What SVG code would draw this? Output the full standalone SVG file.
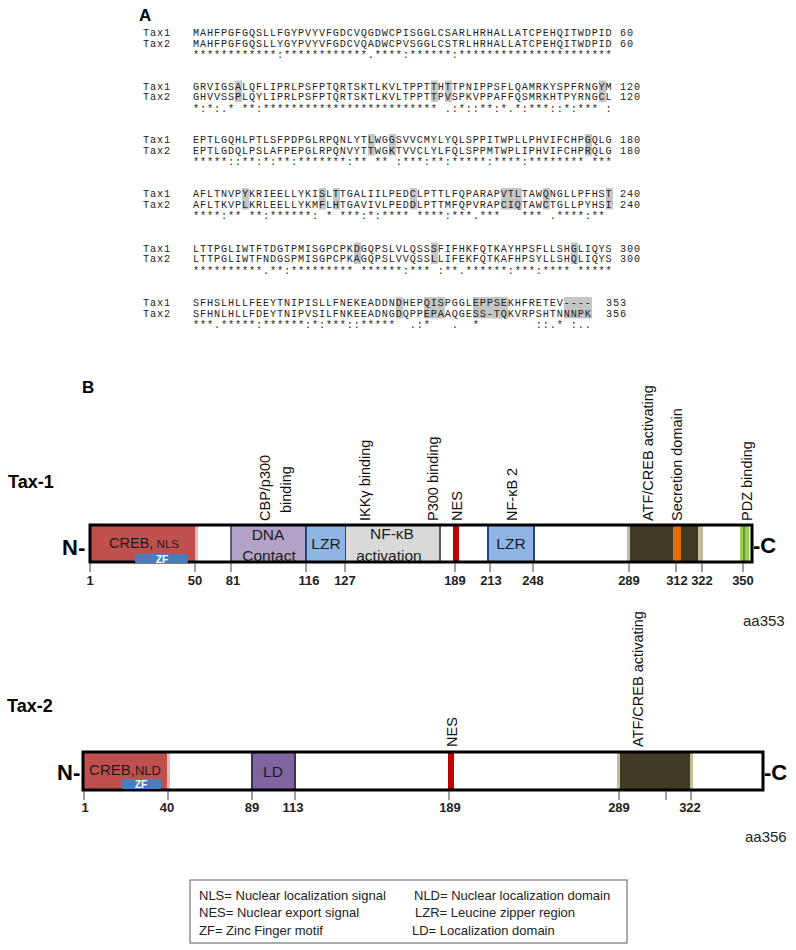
<svg xmlns="http://www.w3.org/2000/svg" width="796" height="950" viewBox="0 0 796 950">
<style>
.seq{font-family:'Liberation Mono',monospace;font-size:10.2px;letter-spacing:0.88px;fill:#222;white-space:pre}
.hl{fill:#c6c6c6}
.pl{font-family:'Liberation Sans',Arial,sans-serif;font-weight:bold;fill:#000}
.rl{font-family:'Liberation Sans',Arial,sans-serif;font-size:14.5px;fill:#111}
.num{font-family:'Liberation Sans',Arial,sans-serif;font-size:13px;font-weight:bold;fill:#222;text-anchor:middle}
.in{font-family:'Liberation Sans',Arial,sans-serif;font-size:15.5px;fill:#1c1c1c;text-anchor:middle}
.zf{font-family:'Liberation Sans',Arial,sans-serif;font-size:10px;font-weight:bold;fill:#fff;text-anchor:middle}
.tick{stroke:#404040;stroke-width:1}
.lg{font-family:'Liberation Sans',Arial,sans-serif;font-size:13px;fill:#222}
.aa{font-family:'Liberation Sans',Arial,sans-serif;font-size:15px;fill:#222}
.bar{fill:none;stroke:#000;stroke-width:3}
</style>
<rect width="796" height="950" fill="#fff"/>
<text class="pl" x="139" y="21" font-size="17">A</text>
<g id="alignment">
<g id="block1">
<text class="seq" x="143" y="36">Tax1</text><text class="seq" x="193" y="36">MAHFPGFGQSLLFGYPVYVFGDCVQGDWCPISGGLCSARLHRHALLATCPEHQITWDPID</text><text class="seq" x="620" y="36">60</text>
<text class="seq" x="143" y="46.5">Tax2</text><text class="seq" x="193" y="46.5">MAHFPGFGQSLLYGYPVYVFGDCVQADWCPVSGGLCSTRLHRHALLATCPEHQITWDPID</text><text class="seq" x="620" y="46.5">60</text>
<text class="seq" x="193" y="58" xml:space="preserve">************:************.****:******:**********************</text>
</g>
<g id="block2" transform="translate(0,53.5)">
<rect class="hl" x="235" y="27" width="7" height="21.5"/><rect class="hl" x="431" y="27" width="7" height="21.5"/><rect class="hl" x="445" y="27" width="7" height="21.5"/><rect class="hl" x="599" y="27" width="7" height="21.5"/>
<text class="seq" x="143" y="36">Tax1</text><text class="seq" x="193" y="36">GRVIGSALQFLIPRLPSFPTQRTSKTLKVLTPPTTHTTPNIPPSFLQAMRKYSPFRNGYM</text><text class="seq" x="620" y="36">120</text>
<text class="seq" x="143" y="46.5">Tax2</text><text class="seq" x="193" y="46.5">GHVVSSPLQYLIPRLPSFPTQRTSKTLKVLTPPTTPVSPKVPPAFFQSMRKHTPYRNGCL</text><text class="seq" x="620" y="46.5">120</text>
<text class="seq" x="193" y="58" xml:space="preserve">*:*:.* **:************************* .:*::**:*.*:***::*:*** :</text>
</g>
<g id="block3" transform="translate(0,107)">
<rect class="hl" x="368" y="27" width="7" height="21.5"/><rect class="hl" x="389" y="27" width="7" height="21.5"/><rect class="hl" x="585" y="27" width="7" height="21.5"/>
<text class="seq" x="143" y="36">Tax1</text><text class="seq" x="193" y="36">EPTLGQHLPTLSFPDPGLRPQNLYTLWGGSVVCMYLYQLSPPITWPLLPHVIFCHPGQLG</text><text class="seq" x="620" y="36">180</text>
<text class="seq" x="143" y="46.5">Tax2</text><text class="seq" x="193" y="46.5">EPTLGDQLPSLAFPEPGLRPQNVYTTWGKTVVCLYLFQLSPPMTWPLIPHVIFCHPRQLG</text><text class="seq" x="620" y="46.5">180</text>
<text class="seq" x="193" y="58" xml:space="preserve">*****::**:*:**:*******:** ** :***:**:*****:****:******** ***</text>
</g>
<g id="block4" transform="translate(0,161)">
<rect class="hl" x="242" y="27" width="7" height="21.5"/><rect class="hl" x="319" y="27" width="7" height="21.5"/><rect class="hl" x="333" y="27" width="7" height="21.5"/><rect class="hl" x="410" y="27" width="7" height="21.5"/><rect class="hl" x="501" y="27" width="21" height="21.5"/><rect class="hl" x="543" y="27" width="7" height="21.5"/><rect class="hl" x="606" y="27" width="7" height="21.5"/>
<text class="seq" x="143" y="36">Tax1</text><text class="seq" x="193" y="36">AFLTNVPYKRIEELLYKISLTTGALIILPEDCLPTTLFQPARAPVTLTAWQNGLLPFHST</text><text class="seq" x="620" y="36">240</text>
<text class="seq" x="143" y="46.5">Tax2</text><text class="seq" x="193" y="46.5">AFLTKVPLKRLEELLYKMFLHTGAVIVLPEDDLPTTMFQPVRAPCIQTAWCTGLLPYHSI</text><text class="seq" x="620" y="46.5">240</text>
<text class="seq" x="193" y="58" xml:space="preserve">****:** **:******: * ***:*:**** ****:***.***   *** .****:** </text>
</g>
<g id="block5" transform="translate(0,215.5)">
<rect class="hl" x="354" y="27" width="7" height="21.5"/><rect class="hl" x="431" y="27" width="7" height="21.5"/><rect class="hl" x="571" y="27" width="7" height="21.5"/>
<text class="seq" x="143" y="36">Tax1</text><text class="seq" x="193" y="36">LTTPGLIWTFTDGTPMISGPCPKDGQPSLVLQSSSFIFHKFQTKAYHPSFLLSHGLIQYS</text><text class="seq" x="620" y="36">300</text>
<text class="seq" x="143" y="46.5">Tax2</text><text class="seq" x="193" y="46.5">LTTPGLIWTFNDGSPMISGPCPKAGQPSLVVQSSLLIFEKFQTKAFHPSYLLSHQLIQYS</text><text class="seq" x="620" y="46.5">300</text>
<text class="seq" x="193" y="58" xml:space="preserve">**********.**:********* ******:*** :**.******:***:**** *****</text>
</g>
<g id="block6" transform="translate(0,270)">
<rect class="hl" x="396" y="27" width="7" height="21.5"/><rect class="hl" x="424" y="27" width="21" height="21.5"/><rect class="hl" x="473" y="27" width="35" height="21.5"/><rect class="hl" x="564" y="27" width="28" height="21.5"/>
<text class="seq" x="143" y="36">Tax1</text><text class="seq" x="193" y="36">SFHSLHLLFEEYTNIPISLLFNEKEADDNDHEPQISPGGLEPPSEKHFRETEV----</text><text class="seq" x="606" y="36">353</text>
<text class="seq" x="143" y="46.5">Tax2</text><text class="seq" x="193" y="46.5">SFHNLHLLFDEYTNIPVSILFNKEEADNGDQPPEPAAQGESS-TQKVRPSHTNNNPK</text><text class="seq" x="606" y="46.5">356</text>
<text class="seq" x="193" y="58" xml:space="preserve">***.*****:******:*:***::*****  .:*   .  *        ::.* :..</text>
</g>
</g>
<text class="pl" x="82" y="393" font-size="17">B</text>
<g id="tax1">
<text class="pl" x="8" y="488" font-size="18">Tax-1</text>
<text class="pl" x="62" y="555" font-size="22">N-</text>
<text class="pl" x="753" y="553" font-size="22">-C</text>
<rect x="90" y="525" width="105" height="37" fill="#c0504d"/>
<rect x="195" y="525" width="3" height="37" fill="#e6b9b8"/>
<rect x="231" y="525" width="75" height="37" fill="#b3a2c7"/>
<line x1="231" y1="525" x2="231" y2="562" stroke="#403152" stroke-width="1.5"/>
<rect x="306" y="525" width="40" height="37" fill="#8eb4e3" stroke="#1f497d" stroke-width="2"/>
<rect x="346" y="525" width="94" height="37" fill="#d9d9d9"/>
<line x1="440" y1="525" x2="440" y2="562" stroke="#595959" stroke-width="2"/>
<rect x="453" y="525" width="6" height="37" fill="#c00000"/>
<rect x="488" y="525" width="46" height="37" fill="#8eb4e3" stroke="#1f497d" stroke-width="2"/>
<rect x="627" y="525" width="76" height="37" fill="#c4bd97"/>
<rect x="630" y="525" width="68" height="37" fill="#403b24"/>
<rect x="673" y="525" width="8" height="37" fill="#e46c0a"/>
<rect x="740" y="525" width="9" height="37" fill="#92d050"/>
<line x1="744" y1="525" x2="744" y2="562" stroke="#77933c" stroke-width="2"/>
<rect class="bar" x="90" y="525" width="662" height="37"/>
<rect x="135" y="554" width="53" height="9" rx="1.5" fill="#4a7ebb"/>
<text class="zf" x="162" y="562.5">ZF</text>
<text class="in" x="144" y="548"><tspan font-size="14.5">CREB,</tspan><tspan font-size="11.5"> NLS</tspan></text>
<text class="in" x="268" y="540">DNA</text>
<text class="in" x="269" y="561">Contact</text>
<text class="in" x="326" y="549">LZR</text>
<text class="in" x="392" y="539">NF-κB</text>
<text class="in" x="389" y="561">activation</text>
<text class="in" x="511" y="549">LZR</text>
<text class="rl" transform="translate(270,521) rotate(-90)">CBP/p300</text>
<text class="rl" transform="translate(291,513) rotate(-90)">binding</text>
<text class="rl" transform="translate(370,521) rotate(-90)">IKKγ binding</text>
<text class="rl" transform="translate(438,521) rotate(-90)">P300 binding</text>
<text class="rl" transform="translate(462,521) rotate(-90)">NES</text>
<text class="rl" transform="translate(517,521) rotate(-90)">NF-κB 2</text>
<text class="rl" transform="translate(653,521) rotate(-90)">ATF/CREB activating</text>
<text class="rl" transform="translate(682,521) rotate(-90)">Secretion domain</text>
<text class="rl" transform="translate(752,521) rotate(-90)">PDZ binding</text>
<path class="tick" d="M90,563V572M195,563V572M231,563V572M306,563V572M345,563V572M455,563V572M490,563V572M533,563V572M629,563V572M676,563V572M702,563V572M743,563V572"/>
<text class="num" x="90" y="585">1</text>
<text class="num" x="195" y="585">50</text>
<text class="num" x="233" y="585">81</text>
<text class="num" x="309" y="585">116</text>
<text class="num" x="345" y="585">127</text>
<text class="num" x="455" y="585">189</text>
<text class="num" x="491" y="585">213</text>
<text class="num" x="533" y="585">248</text>
<text class="num" x="629" y="585">289</text>
<text class="num" x="677" y="585">312</text>
<text class="num" x="702" y="585">322</text>
<text class="num" x="743" y="585">350</text>
<text class="aa" x="743" y="626">aa353</text>
</g>
<g id="tax2">
<text class="pl" x="7" y="712" font-size="18">Tax-2</text>
<text class="pl" x="57" y="780" font-size="22">N-</text>
<text class="pl" x="764" y="780" font-size="22">-C</text>
<rect x="83" y="752" width="84" height="38" fill="#c0504d"/>
<rect x="167" y="752" width="3" height="38" fill="#e6b9b8"/>
<rect x="252" y="752" width="43" height="38" fill="#8064a2" stroke="#3f3151" stroke-width="2"/>
<rect x="448" y="752" width="6" height="38" fill="#c00000"/>
<rect x="617" y="752" width="76" height="38" fill="#c4bd97"/>
<rect x="620" y="752" width="70" height="38" fill="#403b24"/>
<rect class="bar" x="83" y="752" width="680" height="38"/>
<rect x="122" y="779" width="39" height="10" rx="1.5" fill="#4a7ebb"/>
<text class="zf" x="141" y="788">ZF</text>
<text class="in" x="125" y="775"><tspan font-size="15">CREB,</tspan><tspan font-size="13">NLD</tspan></text>
<text class="in" x="273" y="777">LD</text>
<text class="rl" transform="translate(457,747) rotate(-90)">NES</text>
<text class="rl" transform="translate(643,747) rotate(-90)">ATF/CREB activating</text>
<path class="tick" d="M84,791V800M168,791V800M252,791V800M295,791V800M449,791V800M619,791V800M666,791V800M691,791V800"/>
<text class="num" x="85" y="812">1</text>
<text class="num" x="167" y="812">40</text>
<text class="num" x="252" y="812">89</text>
<text class="num" x="293" y="812">113</text>
<text class="num" x="450" y="812">189</text>
<text class="num" x="619" y="812">289</text>
<text class="num" x="690" y="812">322</text>
<text class="aa" x="745" y="842">aa356</text>
</g>
<g id="legend">
<rect x="190" y="880" width="437" height="63" fill="#fff" stroke="#7f7f7f" stroke-width="1.3"/>
<text class="lg" x="199" y="900">NLS= Nuclear localization signal</text>
<text class="lg" x="199" y="917">NES= Nuclear export signal</text>
<text class="lg" x="199" y="935">ZF= Zinc Finger motif</text>
<text class="lg" x="414" y="900">NLD= Nuclear localization domain</text>
<text class="lg" x="415" y="917">LZR= Leucine zipper region</text>
<text class="lg" x="412" y="935">LD= Localization domain</text>
</g>
</svg>
